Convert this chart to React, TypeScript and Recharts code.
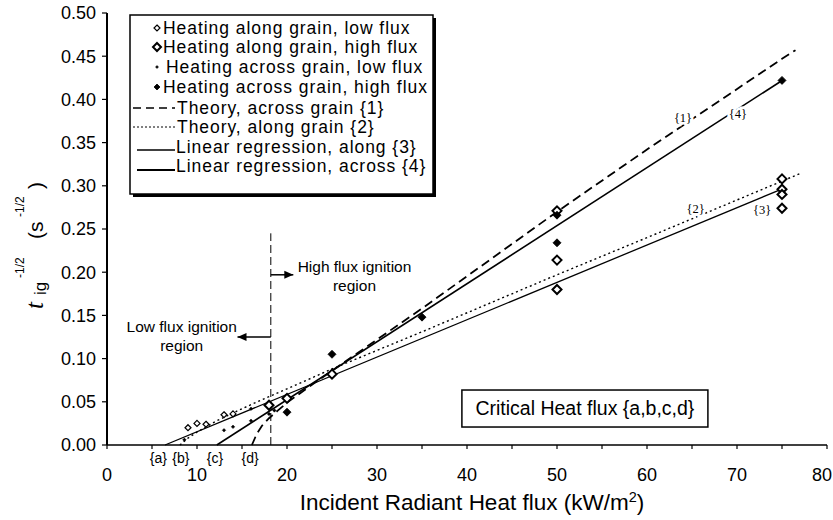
import React from 'react';
import { ComposedChart, Line, Scatter, XAxis, YAxis, ReferenceLine, ReferenceDot } from 'recharts';

const FONT = '"Liberation Sans", Arial, Helvetica, sans-serif';
const SERIF = '"Liberation Serif", "Times New Roman", serif';

// measured points (x = incident flux kW/m2, y = t_ig^-1/2)
const alongLow = [
    { x: 9, y: 0.02 }, { x: 10, y: 0.025 }, { x: 11, y: 0.024 }, { x: 13, y: 0.035 }, { x: 14, y: 0.036 },
];
const alongHigh = [
    { x: 18, y: 0.046 }, { x: 20, y: 0.054 }, { x: 25, y: 0.082 },
    { x: 50, y: 0.271 }, { x: 50, y: 0.214 }, { x: 50, y: 0.18 },
    { x: 75, y: 0.308 }, { x: 75, y: 0.296 }, { x: 75, y: 0.29 }, { x: 75, y: 0.274 },
];
const acrossLow = [
    { x: 8.6, y: 0.006 }, { x: 13, y: 0.017 }, { x: 14, y: 0.021 }, { x: 16, y: 0.028 },
    { x: 16, y: 0.042 }, { x: 18, y: 0.036 }, { x: 18.6, y: 0.04 },
];
const acrossHigh = [
    { x: 20, y: 0.038 }, { x: 25, y: 0.105 }, { x: 35, y: 0.148 },
    { x: 50, y: 0.266 }, { x: 50, y: 0.234 }, { x: 75, y: 0.422 },
];

// theory curves and regressions
const theoryAcross = [
    { x: 16.1, y: 0 }, { x: 16.6, y: 0.012 }, { x: 17.2, y: 0.022 }, { x: 18, y: 0.031 }, { x: 19, y: 0.04 },
    { x: 20, y: 0.049 }, { x: 22, y: 0.064 }, { x: 25, y: 0.086 }, { x: 35, y: 0.158 }, { x: 50, y: 0.27 },
    { x: 60, y: 0.342 }, { x: 75, y: 0.447 }, { x: 76.5, y: 0.457 },
];
const theoryAlong = [
    { x: 8.1, y: 0 }, { x: 9, y: 0.008 }, { x: 10, y: 0.015 }, { x: 12, y: 0.027 }, { x: 15, y: 0.042 },
    { x: 18, y: 0.056 }, { x: 20, y: 0.065 }, { x: 25, y: 0.088 }, { x: 35, y: 0.131 }, { x: 50, y: 0.197 },
    { x: 60, y: 0.24 }, { x: 77.2, y: 0.315 },
];
const regAlong = [{ x: 6.45, y: 0 }, { x: 74.7, y: 0.295 }];
const regAcross = [{ x: 12.2, y: 0 }, { x: 75.1, y: 0.4225 }];

const xTicks = [0, 5, 10, 15, 20, 25, 30, 35, 40, 45, 50, 55, 60, 65, 70, 75, 80];
const yTicks = [0, 0.05, 0.1, 0.15, 0.2, 0.25, 0.3, 0.35, 0.4, 0.45, 0.5];

const criticalFlux = 18.2;
const criticalTop = 0.245;
const highArrow = { from: 18.2, to: 20.7, y: 0.197 };
const lowArrow = { from: 18.2, to: 14.5, y: 0.125 };

const lineLabels = [
    { x: 64.0, y: 0.3785, text: '{1}' },
    { x: 70.1, y: 0.384, text: '{4}' },
    { x: 65.4, y: 0.274, text: '{2}' },
    { x: 72.8, y: 0.273, text: '{3}' },
];
const fluxLabels = [
    { x: 5.7, text: '{a}' },
    { x: 8.2, text: '{b}' },
    { x: 12.0, text: '{c}' },
    { x: 15.9, text: '{d}' },
];

const legendRows = [
    'Heating along grain, low flux',
    'Heating along grain, high flux',
    'Heating across grain, low flux',
    'Heating across grain, high flux',
    'Theory, across grain {1}',
    'Theory, along grain {2}',
    'Linear regression, along {3}',
    'Linear regression, across {4}',
];

const diamond = (size: number, filled: boolean, sw: number) => (p: any) => {
    const { cx, cy } = p;
    const h = size / 2;
    return (
        <polygon
            points={`${cx},${cy - h} ${cx + h},${cy} ${cx},${cy + h} ${cx - h},${cy}`}
            fill={filled ? '#000' : '#fff'}
            stroke="#000"
            strokeWidth={sw}
        />
    );
};

const arrowHead = (dir: number) => (p: any) => {
    const { cx, cy } = p;
    return <polygon points={`${cx},${cy} ${cx - dir * 9},${cy - 4} ${cx - dir * 9},${cy + 4}`} fill="#000" />;
};

const XTick = (p: any) => {
    const v = p.payload.value;
    if (v % 10 !== 0) return null;
    const last = v === 80;
    return (
        <text
            x={last ? p.x + 5 : p.x}
            y={p.y}
            dy="0.71em"
            textAnchor={last ? 'end' : 'middle'}
            fontSize={18}
            fontFamily={FONT}
            fill="#000"
        >
            {v}
        </text>
    );
};

const LegendBox = () => {
    const ys = [13, 32, 52, 72, 93, 112, 132, 151];
    const sx = 27;
    return (
        <svg width={310} height={186} style={{ position: 'absolute', left: 129, top: 14 }}>
            <rect x={4} y={4} width={303} height={179} fill="#000" />
            <rect x={1} y={1} width={303} height={179} fill="#fff" stroke="#000" strokeWidth={1.5} />
            {diamond(6, false, 1.2)({ cx: sx + 1, cy: ys[0] + 1 })}
            {diamond(8, false, 2)({ cx: sx + 1, cy: ys[1] + 1 })}
            {diamond(3, true, 0.5)({ cx: sx + 1, cy: ys[2] + 1 })}
            {diamond(6, true, 0.8)({ cx: sx + 1, cy: ys[3] + 1 })}
            <line x1={4} x2={46} y1={ys[4] + 1} y2={ys[4] + 1} stroke="#000" strokeWidth={1.5} strokeDasharray="8 5" />
            <line x1={4} x2={46} y1={ys[5] + 1} y2={ys[5] + 1} stroke="#000" strokeWidth={1} strokeDasharray="2 2" />
            <line x1={8} x2={46} y1={ys[6] + 4} y2={ys[6] + 4} stroke="#000" strokeWidth={1.3} />
            <line x1={8} x2={46} y1={ys[7] + 5} y2={ys[7] + 5} stroke="#000" strokeWidth={2} />
            {legendRows.map((r, i) => (
                <text
                    key={r}
                    x={i < 4 ? (i === 2 ? 37 : 34) : i < 6 ? 48 : 47}
                    y={ys[i] + 1}
                    dy="0.355em"
                    fontSize={17.5}
                    fontFamily={FONT}
                    fill="#000"
                    style={{ letterSpacing: '0.95px' }}
                >
                    {r}
                </text>
            ))}
        </svg>
    );
};

export default function App() {
    return (
        <div style={{ position: 'absolute', left: 0, top: 0, width: 833, height: 520, background: '#fff' }}>
            <ComposedChart width={833} height={520} margin={{ top: 13, right: 6, bottom: 0, left: 1 }}>
                <XAxis
                    type="number"
                    dataKey="x"
                    domain={[0, 80]}
                    ticks={xTicks}
                    interval={0}
                    height={75}
                    tickSize={4}
                    tickMargin={19}
                    axisLine={{ stroke: '#000', strokeWidth: 1.5 }}
                    tickLine={{ stroke: '#000', strokeWidth: 1.2 }}
                    tick={<XTick />}
                    label={{
                        content: () => (
                            <text x={472} y={510} textAnchor="middle" fontSize={22.5} fontFamily={FONT} fill="#000">
                                Incident Radiant Heat flux (kW/m
                                <tspan fontSize={14.5} dy={-8}>2</tspan>
                                <tspan dy={8}>)</tspan>
                            </text>
                        ),
                    }}
                />
                <YAxis
                    type="number"
                    domain={[0, 0.5]}
                    ticks={yTicks}
                    interval={0}
                    width={106}
                    tickFormatter={(v: number) => v.toFixed(2)}
                    tickSize={5}
                    tickMargin={6}
                    axisLine={{ stroke: '#000', strokeWidth: 2 }}
                    tickLine={{ stroke: '#000', strokeWidth: 1.2 }}
                    tick={{ fill: '#000', fontSize: 18, fontFamily: FONT }}
                    label={{
                        content: () => (
                            <text transform="translate(43,310) rotate(-90)" fontFamily={FONT} fill="#000">
                                <tspan x={1} y={0} fontFamily={SERIF} fontStyle="italic" fontSize={25}>t</tspan>
                                <tspan x={15} y={3} fontSize={17}>ig</tspan>
                                <tspan x={32} y={-19} fontSize={12}>-1/2</tspan>
                                <tspan x={71} y={0} fontSize={21}>(s</tspan>
                                <tspan x={93} y={-19} fontSize={12}>-1/2</tspan>
                                <tspan x={121} y={0} fontSize={21}>)</tspan>
                            </text>
                        ),
                    }}
                />

                <ReferenceLine
                    segment={[{ x: criticalFlux, y: 0 }, { x: criticalFlux, y: criticalTop }]}
                    stroke="#000"
                    strokeWidth={1}
                    strokeDasharray="8 4"
                />
                <ReferenceLine
                    segment={[{ x: highArrow.from, y: highArrow.y }, { x: highArrow.to, y: highArrow.y }]}
                    stroke="#000"
                    strokeWidth={1.5}
                />
                <ReferenceLine
                    segment={[{ x: lowArrow.from, y: lowArrow.y }, { x: lowArrow.to, y: lowArrow.y }]}
                    stroke="#000"
                    strokeWidth={1.5}
                />
                <Scatter data={[{ x: highArrow.to, y: highArrow.y }]} dataKey="y" shape={arrowHead(1)} isAnimationActive={false} />
                <Scatter data={[{ x: lowArrow.to, y: lowArrow.y }]} dataKey="y" shape={arrowHead(-1)} isAnimationActive={false} />

                <Line data={theoryAcross} dataKey="y" type="linear" stroke="#000" strokeWidth={1.8} strokeDasharray="9 5" dot={false} activeDot={false} isAnimationActive={false} />
                <Line data={theoryAlong} dataKey="y" type="linear" stroke="#000" strokeWidth={1.4} strokeDasharray="2 3" dot={false} activeDot={false} isAnimationActive={false} />
                <Line data={regAlong} dataKey="y" type="linear" stroke="#000" strokeWidth={1.3} dot={false} activeDot={false} isAnimationActive={false} />
                <Line data={regAcross} dataKey="y" type="linear" stroke="#000" strokeWidth={1.6} dot={false} activeDot={false} isAnimationActive={false} />

                <Scatter data={alongLow} dataKey="y" shape={diamond(6, false, 1.2)} isAnimationActive={false} />
                <Scatter data={acrossLow} dataKey="y" shape={diamond(3.5, true, 0.5)} isAnimationActive={false} />
                <Scatter data={alongHigh} dataKey="y" shape={diamond(9, false, 2)} isAnimationActive={false} />
                <Scatter data={acrossHigh} dataKey="y" shape={diamond(8, true, 0.8)} isAnimationActive={false} />

                {lineLabels.map((l) => (
                    <ReferenceDot
                        key={l.text}
                        x={l.x}
                        y={l.y}
                        r={0}
                        ifOverflow="visible"
                        shape={(p: any) => (
                            <text
                                x={p.cx}
                                y={p.cy}
                                dy="0.35em"
                                textAnchor="middle"
                                fontSize={12.5}
                                fontFamily={SERIF}
                                fill="#000"
                                stroke="#fff"
                                strokeWidth={5}
                                paintOrder="stroke"
                            >
                                {l.text}
                            </text>
                        )}
                    />
                ))}
                {fluxLabels.map((l) => (
                    <ReferenceDot
                        key={l.text}
                        x={l.x}
                        y={0}
                        r={0}
                        ifOverflow="visible"
                        shape={(p: any) => (
                            <text x={p.cx} y={p.cy + 13} dy="0.35em" textAnchor="middle" fontSize={14} fontFamily={FONT} fill="#000">
                                {l.text}
                            </text>
                        )}
                    />
                ))}
                <ReferenceDot
                    x={27.5}
                    y={0.206}
                    r={0}
                    ifOverflow="visible"
                    shape={(p: any) => (
                        <text x={p.cx} y={p.cy} textAnchor="middle" fontSize={15.5} fontFamily={FONT} fill="#000">
                            <tspan x={p.cx} dy="0.35em">High flux ignition</tspan>
                            <tspan x={p.cx} dy="1.2em">region</tspan>
                        </text>
                    )}
                />
                <ReferenceDot
                    x={8.3}
                    y={0.1366}
                    r={0}
                    ifOverflow="visible"
                    shape={(p: any) => (
                        <text x={p.cx} y={p.cy} textAnchor="middle" fontSize={15.5} fontFamily={FONT} fill="#000">
                            <tspan x={p.cx} dy="0.35em">Low flux ignition</tspan>
                            <tspan x={p.cx} dy="1.2em">region</tspan>
                        </text>
                    )}
                />
                <ReferenceDot
                    x={53.1}
                    y={0.0428}
                    r={0}
                    ifOverflow="visible"
                    shape={(p: any) => (
                        <g>
                            <rect x={p.cx - 123} y={p.cy - 18} width={246} height={37} fill="#fff" stroke="#000" strokeWidth={1.5} />
                            <text x={p.cx} y={p.cy} dy="0.35em" textAnchor="middle" fontSize={19.5} fontFamily={FONT} fill="#000">
                                Critical Heat flux {'{a,b,c,d}'}
                            </text>
                        </g>
                    )}
                />
            </ComposedChart>
            <LegendBox />
        </div>
    );
}
